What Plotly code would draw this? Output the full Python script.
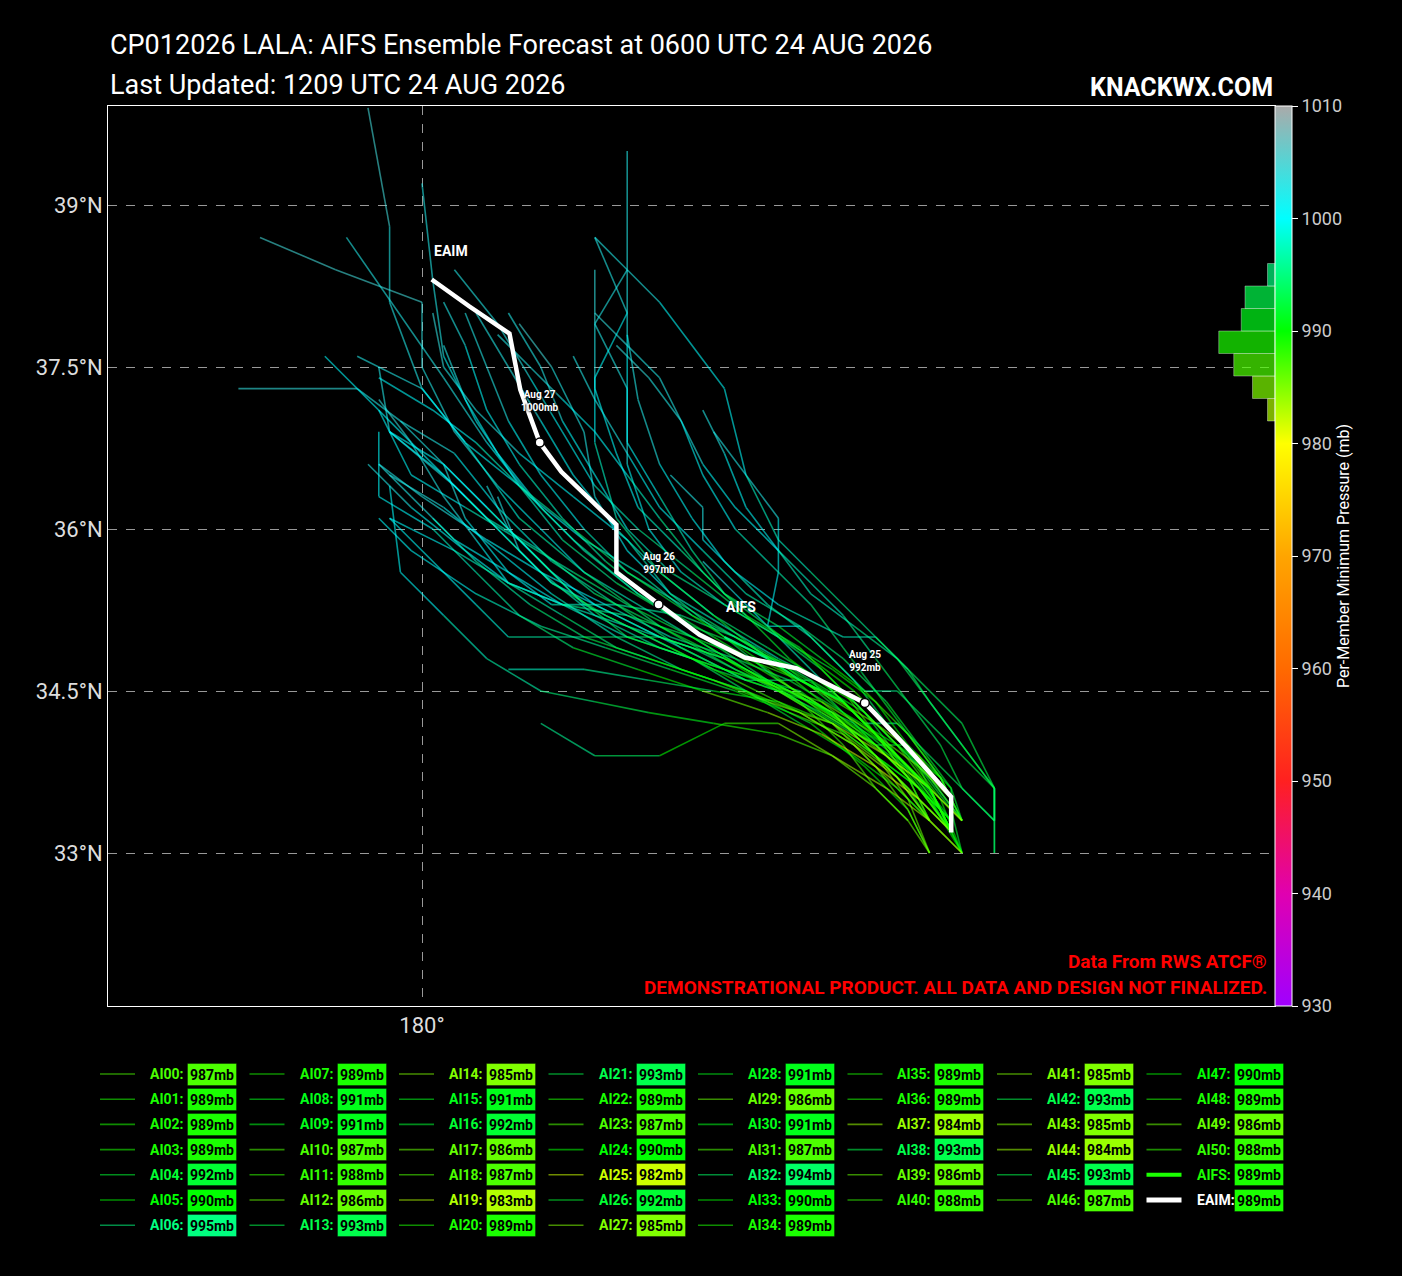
import numpy as np
import plotly.graph_objects as go

# ---- data ----
# ensemble member tracks (lon in deg E, lat in deg N), 6-hourly from 0600 UTC 24 Aug
track_pts = [
    [(184.9,33.2),(184.7,33.6),(184.4,34.0),(184.0,34.4),(183.5,34.7),(183.0,34.9),(182.5,35.1),(182.0,35.4),(181.5,35.8),(181.1,36.2),(180.7,36.7),(180.4,37.2),(180.2,37.7)],
    [(185.0,33.0),(184.7,33.5),(184.2,34.0),(183.6,34.4),(182.9,34.7),(182.2,35.1),(181.5,35.6),(180.9,36.1),(180.4,36.8),(180.0,37.3),(179.7,38.1),(179.7,38.8),(179.5,39.9)],
    [(184.9,33.3),(184.5,33.7),(184.1,34.1),(183.6,34.4),(183.0,34.6),(182.4,34.9),(181.8,35.3),(181.2,35.7),(180.7,36.2),(180.3,36.7),(179.8,37.0),(179.4,37.3),(178.3,37.3)],
    [(184.9,33.2),(184.7,33.6),(184.5,34.0),(184.2,34.4),(183.8,34.7),(183.3,35.0),(182.8,35.3),(182.3,35.6),(181.9,36.0),(181.6,36.5),(181.3,37.0),(181.1,37.5),(180.8,38.0)],
    [(185.0,33.3),(184.9,33.6),(184.6,34.0),(184.3,34.4),(183.9,34.8),(183.5,35.1),(183.0,35.4),(182.6,35.8),(182.2,36.2),(181.9,36.7),(181.6,37.2),(181.4,37.6)],
    [(184.7,33.0),(184.5,33.4),(184.1,33.8),(183.6,34.2),(183.0,34.5),(182.4,34.7),(181.8,35.0),(181.2,35.4),(180.7,35.8),(180.2,36.2),(179.7,36.5)],
    [(185.0,33.3),(184.7,33.7),(184.3,34.1),(183.9,34.5),(183.3,34.8),(182.8,35.1),(182.3,35.4),(181.9,35.8),(181.6,36.3),(181.5,36.9),(181.2,37.5),(180.9,37.9)],
    [(184.9,33.2),(184.7,33.6),(184.3,34.0),(183.8,34.3),(183.2,34.6),(182.6,35.0),(182.0,35.4),(181.4,35.9),(180.9,36.4),(180.5,37.0),(180.2,37.6),(180.1,38.3),(180.0,39.2)],
    [(184.7,33.3),(184.4,33.7),(184.0,34.1),(183.5,34.4),(183.0,34.7),(182.5,35.0),(182.0,35.3),(181.5,35.6),(181.1,36.0),(180.7,36.4),(180.3,36.9),(180.0,37.5),(180.0,38.1),(179.2,38.4),(178.5,38.7)],
    [(185.0,33.0),(184.8,33.4),(184.5,33.8),(184.0,34.2),(183.4,34.5),(182.8,34.8),(182.2,35.0),(181.6,35.3),(181.2,35.6),(180.8,36.0),(180.6,36.4)],
    [(184.9,33.2),(184.6,33.6),(184.2,34.0),(183.7,34.4),(183.2,34.8),(182.7,35.2),(182.2,35.6),(181.8,36.1),(181.6,36.8),(181.6,37.4),(181.9,38.0),(181.6,38.7)],
    [(185.0,33.3),(184.7,33.7),(184.4,34.1),(184.0,34.5),(183.6,34.8),(183.2,35.1),(182.8,35.4),(182.5,35.8),(182.2,36.3),(181.9,36.8),(181.9,37.8),(181.9,38.4),(181.9,39.5)],
    [(184.9,33.5),(184.6,33.9),(184.2,34.2),(183.7,34.5),(183.1,34.8),(182.5,35.2),(181.9,35.6),(181.4,36.0),(180.9,36.4),(180.5,36.8),(180.1,37.1),(179.6,37.4)],
    [(185.3,33.3),(185.3,33.6),(185.0,34.0),(184.7,34.4),(184.4,34.8),(184.0,35.1),(183.6,35.4),(183.3,35.8),(183.0,36.2),(182.8,36.7),(182.6,37.1)],
    [(184.7,33.0),(184.5,33.4),(184.2,33.8),(183.8,34.2),(183.3,34.5),(182.8,34.8),(182.2,35.1),(181.6,35.4),(181.1,35.8),(180.6,36.1),(180.2,36.5),(179.7,36.9),(179.6,37.5)],
    [(184.9,33.2),(184.9,33.6),(184.5,34.0),(184.2,34.0),(183.6,34.6),(183.0,34.6),(182.4,34.9),(181.8,35.2),(181.2,35.5),(180.9,35.8),(180.7,36.3)],
    [(185.0,33.3),(184.8,33.7),(184.5,34.1),(184.2,34.5),(183.9,34.9),(183.6,35.3),(183.3,35.6),(182.9,36.0),(182.6,36.5),(182.4,37.0),(182.2,37.4),(181.9,37.7),(181.6,38.0)],
    [(184.7,33.3),(184.4,33.6),(184.0,34.0),(183.5,34.3),(182.9,34.6),(182.3,34.9),(181.7,35.2),(181.2,35.5),(180.8,35.9),(180.4,36.3),(179.9,36.8),(179.1,37.6)],
    [(184.9,33.2),(184.6,33.5),(184.2,33.9),(183.8,34.2),(183.3,34.4),(182.7,34.5),(182.1,34.6),(181.5,34.7),(180.8,34.7)],
    [(185.0,33.0),(184.7,33.3),(184.3,33.6),(183.8,33.9),(183.3,34.2),(182.8,34.2),(182.2,33.9),(181.6,33.9),(181.1,34.2)],
    [(184.9,33.2),(184.7,33.6),(184.3,34.0),(183.9,34.4),(183.4,34.7),(182.9,35.0),(182.4,35.3),(181.9,35.6),(181.5,36.0),(181.1,36.5),(180.8,37.0),(180.6,37.5),(180.4,38.0)],
    [(185.3,33.0),(185.3,33.6),(185.0,34.2),(184.5,34.7),(184.2,35.0),(183.6,35.6),(183.3,35.9),(183.0,36.5),(182.8,37.3),(182.2,38.1),(181.9,38.4),(181.6,38.7)],
    [(184.9,33.3),(184.6,33.6),(184.2,33.9),(183.8,34.2),(183.3,34.5),(182.7,34.7),(182.1,35.0),(181.5,35.3),(181.1,35.7),(180.7,36.1),(180.2,36.6),(179.8,37.0)],
    [(184.7,33.3),(184.5,33.7),(184.2,34.1),(183.9,34.5),(183.5,34.9),(183.0,35.2),(182.5,35.6),(182.0,36.0),(181.6,36.4),(181.3,36.9),(181.0,37.4),(180.7,37.9),(180.3,38.4)],
    [(185.0,33.3),(184.8,33.7),(184.4,34.0),(183.9,34.3),(183.4,34.6),(182.9,34.8),(182.3,35.0),(181.7,35.3),(181.1,35.6),(180.6,35.9),(180.0,36.3),(179.6,36.6)],
    [(184.9,33.2),(184.6,33.5),(184.2,33.8),(183.7,34.1),(183.2,34.3),(182.6,34.5),(182.0,34.7),(181.4,34.9),(180.9,35.2),(180.5,35.6),(180.1,36.0),(179.6,36.3),(179.6,36.9)],
    [(185.0,33.0),(184.9,33.4),(184.6,33.8),(184.3,34.2),(184.0,34.6),(183.6,35.0),(183.2,35.3),(182.8,35.7),(182.5,36.1),(182.2,36.6),(182.0,37.2),(181.9,37.8)],
    [(184.7,33.0),(184.5,33.3),(184.2,33.6),(183.8,33.9),(183.3,34.1),(182.7,34.2),(182.1,34.3),(181.6,34.4),(181.1,34.5),(180.6,34.8),(180.2,35.2),(179.8,35.6),(179.7,36.4)],
    [(184.9,33.3),(184.6,33.7),(184.2,34.0),(183.7,34.3),(183.1,34.6),(182.5,34.9),(181.9,35.1),(181.3,35.3),(180.8,35.5),(180.5,35.9),(180.2,36.3),(179.9,36.8),(179.6,37.2)],
    [(185.0,33.3),(184.7,33.6),(184.3,33.9),(183.9,34.2),(183.4,34.5),(182.8,34.8),(182.2,35.0),(181.5,35.0),(180.8,35.0),(180.5,35.3),(179.7,36.1)],
    [(184.9,33.2),(184.7,33.5),(184.4,33.9),(184.1,34.3),(183.7,34.7),(183.3,35.0),(182.8,35.3),(182.4,35.6),(182.1,36.0),(181.9,36.6),(181.9,37.3),(181.6,37.9),(181.6,38.4)],
    [(184.5,33.3),(184.2,33.6),(183.9,34.0),(183.5,34.4),(183.0,34.7),(182.5,35.0),(181.9,35.3),(181.4,35.6),(180.9,35.9),(180.4,36.2),(179.9,36.5),(179.6,37.1)],
    [(185.3,33.3),(185.0,33.6),(184.7,33.9),(184.4,34.2),(184.1,34.2),(183.8,34.5),(183.5,34.8),(183.2,35.1),(183.3,35.6),(183.3,36.1),(183.0,36.5),(182.7,36.9)],
    [(184.9,33.2),(184.6,33.6),(184.2,33.9),(183.8,34.3),(183.3,34.6),(182.8,35.0),(182.3,35.4),(181.9,35.9),(181.4,36.3),(180.9,36.7),(180.5,37.1),(180.2,37.5),(180.1,38.0)],
    [(185.0,33.0),(184.8,33.5),(184.5,33.9),(184.1,34.3),(183.6,34.6),(183.1,34.9),(182.5,35.2),(182.0,35.6),(181.5,35.9),(181.0,36.3),(180.6,36.8),(180.2,37.4),(179.3,38.7)],
    [(184.9,33.3),(184.6,33.6),(184.3,34.0),(183.9,34.3),(183.4,34.7),(182.9,35.0),(182.4,35.2),(181.8,35.3),(181.2,35.3),(180.8,35.6),(180.4,36.1),(180.2,36.6)],
    [(184.7,33.3),(184.5,33.6),(184.2,33.9),(183.9,34.2),(183.5,34.5),(182.8,34.7),(182.2,34.9),(181.6,35.2),(181.1,35.6),(180.7,36.0),(180.3,36.4),(179.7,36.9)],
    [(185.0,33.0),(184.7,33.3),(184.4,33.7),(184.0,34.0),(183.5,34.3),(183.0,34.5),(182.4,34.7),(181.8,34.9),(181.3,35.2),(180.8,35.5),(180.3,35.8),(179.7,36.1)],
    [(185.3,33.3),(185.0,33.6),(184.8,34.0),(184.5,34.4),(184.2,34.8),(183.9,35.2),(183.6,35.5),(183.3,35.8),(182.9,36.2),(182.6,36.6),(182.4,37.0),(182.1,37.4),(181.8,37.7)],
    [(184.9,33.2),(184.6,33.5),(184.3,33.8),(183.9,34.1),(183.4,34.3),(182.9,34.5),(182.3,34.7),(181.7,34.9),(181.1,35.1),(180.5,35.4),(179.9,35.8),(179.6,36.1)],
    [(185.0,33.3),(184.8,33.7),(184.5,34.1),(184.1,34.5),(183.7,34.8),(183.3,35.1),(182.8,35.4),(182.4,35.8),(182.0,36.2),(181.8,36.7),(181.6,37.3),(181.6,37.9),(181.9,38.4)],
    [(184.7,33.0),(184.5,33.5),(184.2,33.9),(183.8,34.3),(183.3,34.6),(182.8,34.9),(182.3,35.2),(181.8,35.5),(181.3,35.9),(180.9,36.4),(180.4,36.8),(180.0,37.3),(179.4,37.6)],
    [(185.3,33.3),(185.3,33.6),(185.0,33.9),(184.7,34.2),(184.4,34.5),(184.1,34.5),(183.8,34.8),(183.5,35.1),(183.2,35.1),(182.9,35.4),(182.6,35.7)],
    [(184.9,33.2),(184.7,33.6),(184.4,33.9),(184.0,34.3),(183.5,34.6),(183.0,34.8),(182.5,35.0),(181.9,35.2),(181.3,35.3),(180.8,35.5),(180.4,35.8),(179.9,36.2),(179.5,36.6)],
    [(185.0,33.3),(184.7,33.6),(184.3,33.9),(183.8,34.2),(183.2,34.4),(182.7,34.6),(182.1,34.8),(181.5,35.0),(181.0,35.3),(180.5,35.7),(180.1,36.1)],
    [(185.3,33.0),(185.3,33.6),(185.0,34.0),(184.7,34.4),(184.5,34.7),(184.2,35.0),(183.9,35.0),(183.3,35.3),(182.9,35.6),(182.6,35.9),(182.6,36.2),(182.3,36.5)],
    [(184.9,33.2),(184.6,33.6),(184.2,34.0),(183.7,34.3),(183.2,34.7),(182.7,35.0),(182.2,35.3),(181.7,35.7),(181.3,36.1),(180.9,36.6),(180.6,37.1),(180.4,37.7),(180.2,38.1)],
    [(184.7,33.3),(184.4,33.6),(184.0,33.9),(183.5,34.2),(183.0,34.5),(182.5,34.8),(181.9,35.0),(181.3,35.3),(180.8,35.6),(180.3,35.9),(179.9,36.3),(179.6,36.6)],
    [(185.0,33.0),(184.8,33.4),(184.5,33.8),(184.1,34.2),(183.7,34.6),(183.2,34.9),(182.7,35.2),(182.2,35.6),(181.8,36.0),(181.4,36.5),(181.1,37.0),(180.8,37.5),(180.5,38.0)],
    [(184.9,33.5),(184.6,33.8),(184.2,34.1),(183.7,34.4),(183.1,34.6),(182.5,34.8),(181.9,35.0),(181.4,35.4),(181.0,35.8),(180.6,36.2),(180.2,36.6),(179.7,36.9)],
    [(184.7,33.3),(184.5,33.7),(184.2,34.1),(183.8,34.5),(183.4,34.8),(183.0,35.2),(182.6,35.6),(182.2,36.1),(181.9,36.5),(181.6,36.9),(181.3,37.2),(181.0,37.5),(180.7,37.8)],
]

# minimum pressure (mb) at each track point
track_mb = [
    [990,988,987,988,990,992,994,996,998,999,1000,1001,1002],
    [991,990,989,990,992,994,996,998,1000,1001,1002,1003,1004],
    [991,990,989,990,992,994,996,998,1000,1001,1002,1003,1003],
    [990,989,989,990,991,993,995,997,999,1000,1001,1002,1003],
    [993,992,992,993,994,996,998,999,1000,1001,1002,1002],
    [991,990,990,991,993,995,997,999,1000,1001,1002],
    [996,995,995,996,997,998,999,1000,1001,1002,1003,1004],
    [990,989,989,990,992,994,996,998,999,1000,1001,1002,1003],
    [992,991,991,992,994,996,998,999,1000,1001,1002,1003,1003,1004,1004],
    [992,991,991,992,994,996,998,999,1000,1001,1002],
    [988,987,987,988,990,993,995,997,999,1000,1001,1002],
    [989,988,988,989,991,993,995,997,999,1000,1001,1002,1003],
    [987,986,986,987,989,992,994,996,998,999,1000,1001],
    [994,993,993,994,995,997,998,999,1000,1001,1002],
    [987,986,985,986,988,990,993,995,997,999,1000,1001,1002],
    [992,991,991,992,994,996,998,999,1000,1001,1002],
    [993,992,992,993,994,996,998,999,1000,1001,1002,1003,1003],
    [988,987,986,987,989,992,994,996,998,999,1000,1001],
    [989,988,987,988,990,992,995,997,999],
    [985,984,983,984,986,989,992,995,997],
    [991,990,989,990,992,994,996,998,999,1000,1001,1002,1003],
    [994,993,993,994,995,997,998,999,1000,1001,1002,1003],
    [991,990,989,990,992,994,996,998,999,1000,1001,1002],
    [989,988,987,988,990,993,995,997,999,1000,1001,1002,1003],
    [992,991,990,991,993,995,997,999,1000,1001,1002,1002],
    [984,983,982,983,985,988,991,994,996,998,999,1000,1001],
    [993,992,992,993,994,996,998,999,1000,1001,1002,1003],
    [987,986,985,986,988,990,992,994,996,998,999,1000,1001],
    [992,991,991,992,994,996,998,999,1000,1001,1002,1003,1003],
    [987,986,986,987,989,991,994,996,998,1000,1001],
    [992,991,991,992,993,995,997,999,1000,1001,1002,1003,1003],
    [988,987,987,988,990,992,994,996,998,999,1000,1001],
    [995,994,994,995,996,997,998,999,1000,1001,1002,1003],
    [991,990,990,991,993,995,997,999,1000,1001,1002,1003,1003],
    [990,989,989,990,992,994,996,998,999,1000,1001,1002,1003],
    [990,989,989,990,992,994,996,998,999,1000,1001,1002],
    [990,989,989,990,992,994,996,998,999,1000,1001,1002],
    [986,985,984,985,987,989,992,994,996,998,999,1000],
    [994,993,993,994,995,997,998,999,1000,1001,1002,1003,1003],
    [988,987,986,987,989,991,993,995,997,999,1000,1001],
    [989,988,988,989,991,993,995,997,999,1000,1001,1002,1003],
    [986,985,985,986,988,990,993,995,997,999,1000,1001,1002],
    [994,993,993,994,995,997,998,999,1000,1001,1002],
    [986,985,985,986,988,990,993,995,997,999,1000,1001,1002],
    [985,984,984,985,987,989,992,994,996,998,999],
    [994,993,993,994,995,997,998,999,1000,1001,1002,1003],
    [988,987,987,988,990,992,994,996,998,999,1000,1001,1002],
    [991,990,990,991,993,995,997,999,1000,1001,1002,1002],
    [990,989,989,990,992,994,996,998,999,1000,1001,1002,1003],
    [987,986,986,987,989,991,993,995,997,999,1000,1001],
    [989,988,988,989,991,993,995,997,999,1000,1001,1002,1003],
]
member_names = ["AI%02d" % i for i in range(len(track_pts))]

aifs_pts = [(184.9,33.2),(184.7,33.6),(184.3,34.0),(183.9,34.4),(183.5,34.6),(183.2,34.8),(182.8,35.0)]
aifs_mb = [990,989,989,990,992,994,996]

eaim_pts = [(184.9,33.19),(184.9,33.52),(184.49,33.98),(184.1,34.39),(183.47,34.71),(182.99,34.81),
            (182.57,35.02),(182.19,35.30),(181.8,35.60),(181.8,36.04),(181.29,36.53),(181.09,36.80),
            (180.91,37.29),(180.81,37.81),(180.44,38.06),(180.09,38.31)]
eaim_mb = [990,989,990,992,994,995,996,997,998,999,999,1000,1001,1001,1002,1002]
eaim_day_idx = [3, 7, 11]
eaim_day_txt = ["Aug 25", "Aug 26", "Aug 27"]

lat_ticks = [33, 34.5, 36, 37.5, 39]
lon_ticks = [180]
cbar_ticks = [930, 940, 950, 960, 970, 980, 990, 1000, 1010]
cbar_rgb = [(160,0,255),(224,0,176),(255,32,32),(255,106,0),(255,165,0),
            (255,255,0),(0,255,0),(0,255,255),(170,170,170)]

FONT = "Roboto, Liberation Sans, sans-serif"

# plot area in pixels: x 108..1275, y 106..1006
X_RANGE = [180 - 314 / 108, 180 + 853 / 108]
Y_RANGE = [33 - 153 / 108, 39 + 99 / 108]


def mb_rgb(p):
    p = min(max(p, 930), 1010)
    return tuple(int(round(np.interp(p, cbar_ticks, [c[k] for c in cbar_rgb]))) for k in range(3))


def rgba(p, a=1.0):
    r, g, b = mb_rgb(p)
    return "rgba(%d,%d,%d,%.2f)" % (r, g, b, a)


def px(x):
    return (x - 108) / 1167


def py(y):
    return (1006 - y) / 900


fig = go.Figure()

# member tracks, one trace per pressure value (segments split by None)
segs = {}
for pts, mbs in zip(track_pts, track_mb):
    for i in range(len(pts) - 1):
        p = round((mbs[i] + mbs[i + 1]) / 2)
        sx, sy = segs.setdefault(p, ([], []))
        sx += [pts[i][0], pts[i + 1][0], None]
        sy += [pts[i][1], pts[i + 1][1], None]
for p in sorted(segs, reverse=True):
    fig.add_trace(go.Scatter(x=segs[p][0], y=segs[p][1], mode="lines",
                             line=dict(color=rgba(p, 0.58), width=1.6),
                             hoverinfo="skip", showlegend=False))

# AIFS control
for i in range(len(aifs_pts) - 1):
    p = (aifs_mb[i] + aifs_mb[i + 1]) / 2
    fig.add_trace(go.Scatter(x=[aifs_pts[i][0], aifs_pts[i + 1][0]], y=[aifs_pts[i][1], aifs_pts[i + 1][1]],
                             mode="lines", line=dict(color=rgba(p, 0.9), width=2.2),
                             hoverinfo="skip", showlegend=False))

# ensemble mean
fig.add_trace(go.Scatter(x=[p[0] for p in eaim_pts], y=[p[1] for p in eaim_pts], mode="lines",
                         line=dict(color="white", width=4.5), hoverinfo="skip", showlegend=False))
fig.add_trace(go.Scatter(x=[eaim_pts[i][0] for i in eaim_day_idx], y=[eaim_pts[i][1] for i in eaim_day_idx],
                         mode="markers", marker=dict(color="white", size=9, line=dict(color="black", width=1.5)),
                         hoverinfo="skip", showlegend=False))

# colour bar (dummy point outside the view)
cscale = [[(v - 930) / 80, "rgb(%d,%d,%d)" % c] for v, c in zip(cbar_ticks, cbar_rgb)]
fig.add_trace(go.Scatter(x=[170], y=[20], mode="markers", hoverinfo="skip", showlegend=False,
                         marker=dict(color=[990], colorscale=cscale, cmin=930, cmax=1010, size=1,
                                     showscale=True,
                                     colorbar=dict(x=1.0, xanchor="left", xpad=0, y=0.5, yanchor="middle",
                                                   ypad=0, len=1, lenmode="fraction", thickness=17,
                                                   outlinecolor="white", outlinewidth=1,
                                                   tickvals=cbar_ticks, ticks="outside", ticklen=6,
                                                   tickcolor="white", tickfont=dict(family=FONT, size=18, color="#cccccc"),
                                                   title=dict(text="Per-Member Minimum Pressure (mb)", side="right",
                                                              font=dict(family=FONT, size=16, color="white"))))))

# histogram of minimum pressures beside the colour bar
all_min = [min(m) for m in track_mb] + [min(aifs_mb), min(eaim_mb)]
edges = np.arange(2 * np.floor(min(all_min) / 2), 2 * np.ceil(max(all_min) / 2) + 1, 2)
counts, _ = np.histogram(all_min, bins=edges)
centers = (edges[:-1] + edges[1:]) / 2
fig.add_trace(go.Bar(x=counts, y=centers, orientation="h", width=2, xaxis="x2", yaxis="y2",
                     marker=dict(color=[rgba(c, 0.7) for c in centers],
                                 line=dict(color="rgba(255,255,255,0.35)", width=1)),
                     hoverinfo="skip", showlegend=False))

annotations = []
# EAIM day labels
for i, txt in zip(eaim_day_idx, eaim_day_txt):
    annotations.append(dict(x=eaim_pts[i][0], y=eaim_pts[i][1], xref="x", yref="y", yshift=42,
                            text="<b>%s<br>%dmb</b>" % (txt, eaim_mb[i]), showarrow=False,
                            font=dict(family=FONT, size=10, color="white", shadow="1px 1px 2px black")))
annotations.append(dict(x=eaim_pts[-1][0], y=eaim_pts[-1][1], xref="x", yref="y", xanchor="left",
                        yshift=29, text="<b>EAIM</b>", showarrow=False,
                        font=dict(family=FONT, size=14, color="white")))
annotations.append(dict(x=aifs_pts[-1][0], y=aifs_pts[-1][1], xref="x", yref="y", xanchor="left",
                        yshift=30, text="<b>AIFS</b>", showarrow=False,
                        font=dict(family=FONT, size=14, color="white")))

# titles and notes
annotations += [
    dict(x=0, y=py(45), xref="paper", yref="paper", xanchor="left", yanchor="middle", showarrow=False,
         text="CP012026 LALA: AIFS Ensemble Forecast at 0600 UTC 24 AUG 2026",
         font=dict(family=FONT, size=27, color="white")),
    dict(x=0, y=py(85), xref="paper", yref="paper", xanchor="left", yanchor="middle", showarrow=False,
         text="Last Updated: 1209 UTC 24 AUG 2026", font=dict(family=FONT, size=27, color="white")),
    dict(x=1, y=py(88), xref="paper", yref="paper", xanchor="right", yanchor="middle", showarrow=False,
         text="<b>KNACKWX.COM</b>", font=dict(family=FONT, size=25, color="white")),
    dict(x=px(1269), y=py(961), xref="paper", yref="paper", xanchor="right", yanchor="middle", showarrow=False,
         text="<b>Data From RWS ATCF®</b>", font=dict(family=FONT, size=19, color="#ff0000")),
    dict(x=px(1269), y=py(987), xref="paper", yref="paper", xanchor="right", yanchor="middle", showarrow=False,
         text="<b>DEMONSTRATIONAL PRODUCT. ALL DATA AND DESIGN NOT FINALIZED.</b>",
         font=dict(family=FONT, size=19, color="#ff0000")),
]

# hand-made legend below the map
shapes = []
entries = [(n, min(m), rgba(min(m), 0.55), 1.6, rgba(min(m))) for n, m in zip(member_names, track_mb)]
entries.append(("AIFS", min(aifs_mb), rgba(min(aifs_mb)), 4, rgba(min(aifs_mb))))
entries.append(("EAIM", min(eaim_mb), "white", 5, "white"))
col_sizes = [7, 7, 7, 7, 7, 6, 6, 6]
k = 0
for c, n in enumerate(col_sizes):
    x0 = 100 + 149.5 * c
    for r in range(n):
        name, pmin, lcol, lw, tcol = entries[k]
        k += 1
        y = 1074 + 25.2 * r
        shapes.append(dict(type="line", xref="paper", yref="paper", x0=px(x0), x1=px(x0 + 35),
                           y0=py(y), y1=py(y), line=dict(color=lcol, width=lw)))
        annotations.append(dict(x=px(x0 + 48), y=py(y), xref="paper", yref="paper", xanchor="left",
                                yanchor="middle", showarrow=False, text="<b>%s:</b>" % name,
                                font=dict(family=FONT, size=14, color=tcol)))
        annotations.append(dict(x=px(x0 + 87), y=py(y), xref="paper", yref="paper", xanchor="left",
                                yanchor="middle", showarrow=False, text="<b>%dmb</b>" % pmin,
                                width=46, height=19, align="center",
                                bgcolor=rgba(pmin), bordercolor="rgba(0,0,0,0.35)", borderwidth=1, borderpad=1,
                                font=dict(family=FONT, size=14, color="black")))

fig.update_layout(
    width=1402, height=1276,
    margin=dict(l=108, r=127, t=106, b=270),
    paper_bgcolor="black", plot_bgcolor="black",
    xaxis=dict(range=X_RANGE, tickvals=lon_ticks, ticktext=["180°"], showgrid=True,
               gridcolor="#999999", griddash="dash", gridwidth=1, zeroline=False,
               showline=True, mirror=True, linecolor="white", linewidth=1,
               tickfont=dict(family=FONT, size=22, color="#dddddd")),
    yaxis=dict(range=Y_RANGE, tickvals=lat_ticks, ticktext=["%g°N" % v for v in lat_ticks], showgrid=True,
               gridcolor="#999999", griddash="dash", gridwidth=1, zeroline=False,
               showline=True, mirror=True, linecolor="white", linewidth=1,
               tickfont=dict(family=FONT, size=22, color="#dddddd")),
    xaxis2=dict(overlaying="x", anchor="y2", range=[1167 / 3.75, 0], visible=False),
    yaxis2=dict(overlaying="y", anchor="x2", range=[930, 1010], visible=False),
    annotations=annotations,
    shapes=shapes,
    hovermode=False,
)

fig.write_html("out.html", config={"displayModeBar": False},
               post_script="document.body.style.margin='0';document.body.style.background='black';")
